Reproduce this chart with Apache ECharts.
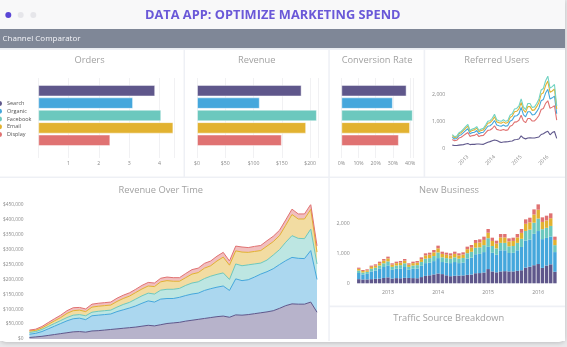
<!DOCTYPE html>
<html><head><meta charset="utf-8">
<script src="https://cdn.jsdelivr.net/npm/echarts@6/dist/echarts.min.js"></script>
<style>html,body{margin:0;padding:0;background:#e8e8ea}#c{width:567px;height:347px}</style>
</head><body><div id="c"></div><script>
// ---------- data ----------
const channels = ['Search', 'Organic', 'Facebook', 'Email', 'Display'];
const orders = [3.86, 3.13, 4.06, 4.46, 2.38];
const revenue = [185, 111, 212, 193, 150];
const conversion = [38, 30, 41.6, 40, 33.5];

const months = ['2012-06','2012-07','2012-08','2012-09','2012-10','2012-11','2012-12',
 '2013-01','2013-02','2013-03','2013-04','2013-05','2013-06','2013-07','2013-08','2013-09','2013-10','2013-11','2013-12',
 '2014-01','2014-02','2014-03','2014-04','2014-05','2014-06','2014-07','2014-08','2014-09','2014-10','2014-11','2014-12',
 '2015-01','2015-02','2015-03','2015-04','2015-05','2015-06','2015-07','2015-08','2015-09','2015-10','2015-11','2015-12',
 '2016-01','2016-02','2016-03','2016-04','2016-05'];

// New Business / Referred Users (users per month)
const nbSearch   = [140,130,130,140,150,160,180,200,160,175,170,185,180,175,170,210,250,270,300,330,310,270,240,255,260,265,285,295,340,345,365,480,400,370,400,410,400,400,420,440,530,560,610,650,520,600,640,390];
const nbOrganic  = [208,169,187,261,280,330,370,404,294,315,328,365,274,315,328,381,431,424,449,520,407,424,441,462,421,435,546,572,641,648,688,751,629,593,713,703,622,629,693,786,912,918,1059,1113,970,931,940,663];
const nbFacebook = [80,65,70,90,95,110,125,135,100,110,115,125,100,110,115,130,150,155,170,190,160,155,150,160,150,155,185,195,220,220,235,290,230,215,250,250,225,230,250,275,325,335,375,420,335,340,355,235];
const nbEmail    = [60,50,50,65,70,80,90,100,75,80,85,90,75,80,85,95,110,115,125,140,115,115,110,115,110,115,135,140,160,165,175,185,170,160,185,185,165,170,185,200,240,245,275,300,245,250,260,175];
const nbDisplay  = [40,35,35,40,45,50,55,60,45,50,55,55,45,50,55,60,70,70,80,90,75,70,70,75,70,75,85,90,100,105,110,125,110,100,115,115,105,110,115,130,150,155,175,180,155,160,165,110];

// Revenue over time (thousands of $)
const rotSearch   = [5,7,9,12,15,18,21,24,25,23,27,28,30,32,34,36,38,40,43,46,44,48,52,54,56,60,63,66,69,72,75,77,73,81,80,82,85,88,91,95,103,112,118,117,117,124,90];
const rotOrganic  = [11,12,16,22,28,34,40,44,45,42,51,52,52,52,58,62,66,71,77,82,80,86,84,82,84,86,88,88,94,97,99,101,90,121,116,117,123,130,135,141,147,151,156,154,153,173,110];
const rotFacebook = [6,6,7,8,9,10,11,12,12,13,12,13,13,13,15,18,19,23,25,26,27,30,31,31,30,34,37,38,40,42,43,44,37,50,50,50,44,37,39,46,50,62,73,67,67,72,52];
const rotEmail    = [5,4,5,7,9,10,14,15,15,14,17,17,17,17,19,20,21,22,23,24,25,28,29,27,24,26,30,31,35,35,45,53,48,44,46,42,42,42,47,45,47,57,71,65,66,66,40];
const rotDisplay  = [3,4,5,6,7,8,9,10,9,9,10,10,10,10,11,11,11,11,12,12,12,12,12,12,12,14,15,15,16,16,16,16,14,16,17,16,17,17,18,18,18,18,18,17,17,17,21];
const rotPeriods = months.slice(0, 47);

// ---------- styles ----------
const COLORS = ['#5f578b', '#45a7dc', '#6cc8be', '#e2b230', '#e07272'];
const REF_COLORS = ['#5f578b', '#e07272', '#45a7dc', '#e2b230', '#72d3c3'];
const FONT = '"Open Sans", "Noto Sans", sans-serif';
const lbl = {fontSize: 5.2, color: '#8a8a8a', fontFamily: FONT};

const chart = echarts.init(document.getElementById('c'), null, {renderer: 'canvas'});

function bgGrid(left, width) { return {left: left, width: width, top: 78, height: 80}; }
function barGrid(left, width) { return {left: left, width: width, top: 84.5, height: 62}; }

const grids = [
  bgGrid(38.2, 136.4), barGrid(38.2, 136.4),       // 0,1 orders
  bgGrid(197, 121.6), barGrid(197, 121.6),         // 2,3 revenue
  bgGrid(341.3, 72.2), barGrid(341.3, 72.2),       // 4,5 conversion
  {left: 452.3, width: 104.4, top: 72.4, height: 76.6},  // 6 referred
  {left: 28, width: 289, top: 205, height: 134},         // 7 revenue over time
  {left: 356.7, width: 200.3, top: 200.3, height: 83}    // 8 new business
];

function bgX(gi, max, fmt, showMin) {
  return {type: 'value', gridIndex: gi, min: 0, max: max, interval: max > 100 ? 50 : (max > 10 ? 10 : 1),
    axisLine: {show: false}, axisTick: {show: false},
    splitLine: {show: true, lineStyle: {color: '#f1f1f3', width: 1}},
    axisLabel: Object.assign({margin: 3, formatter: fmt, showMaxLabel: false, showMinLabel: showMin}, lbl)};
}
function hidX(gi, max) { return {type: 'value', gridIndex: gi, min: 0, max: max, show: false}; }
function hidY(gi) { return {type: 'value', gridIndex: gi, show: false}; }
function catY(gi) { return {type: 'category', gridIndex: gi, data: channels, inverse: true, show: false}; }

const xAxes = [
  bgX(0, 4.5, v => String(v), false), hidX(1, 4.5),
  bgX(2, 215, v => '$' + v, true), hidX(3, 215),
  bgX(4, 42, v => v + '%', true), hidX(5, 42),
  {type: 'category', gridIndex: 6, data: months, boundaryGap: false,
   axisLine: {show: false}, axisTick: {show: false}, splitLine: {show: false},
   axisLabel: Object.assign({rotate: 45, margin: 7, interval: (i, v) => v.endsWith('-01'), formatter: v => v.slice(0, 4)}, lbl)},
  {type: 'category', gridIndex: 7, data: rotPeriods, boundaryGap: false, show: false},
  {type: 'category', gridIndex: 8, data: months,
   axisLine: {show: false}, axisTick: {show: false}, splitLine: {show: false},
   axisLabel: Object.assign({margin: 7, interval: (i, v) => v.endsWith('-01'), formatter: v => v.slice(0, 4)}, lbl)}
];
const thousands = v => (v % 1000 === 0 ? v.toLocaleString('en-US') : '');
const yAxes = [
  hidY(0), catY(1), hidY(2), catY(3), hidY(4), catY(5),
  {type: 'value', gridIndex: 6, min: 0, max: 2800, interval: 1000, axisLine: {show: false}, axisTick: {show: false},
   splitLine: {show: false}, axisLabel: Object.assign({margin: 7, formatter: thousands, showMaxLabel: false}, lbl)},
  {type: 'value', gridIndex: 7, min: 0, max: 450, interval: 50, axisLine: {show: false}, axisTick: {show: false},
   splitLine: {show: false}, axisLabel: Object.assign({margin: 6, formatter: v => '$' + (v * 1000).toLocaleString('en-US')}, lbl, {fontSize: 4.8})},
  {type: 'value', gridIndex: 8, min: 0, max: 2800, interval: 1000, axisLine: {show: false}, axisTick: {show: false},
   splitLine: {show: false}, axisLabel: Object.assign({margin: 7, formatter: thousands, showMaxLabel: false}, lbl)}
];

function hbar(name, gi, vals) {
  return {name: name, type: 'bar', xAxisIndex: gi, yAxisIndex: gi, barCategoryGap: '7%',
    data: vals.map((v, i) => ({value: v, itemStyle: {color: COLORS[i]}})),
    itemStyle: {borderColor: 'rgba(255,255,255,0.45)', borderWidth: 1}};
}

const rotData = [rotSearch, rotOrganic, rotFacebook, rotEmail, rotDisplay];
const nbData = [nbSearch, nbOrganic, nbFacebook, nbEmail, nbDisplay];
const series = [];
channels.forEach((c, i) => series.push({
  name: c, type: 'line', stack: 'rot', xAxisIndex: 7, yAxisIndex: 7, data: rotData[i],
  symbol: 'none', color: COLORS[i], lineStyle: {width: 1, color: COLORS[i]},
  areaStyle: {color: COLORS[i], opacity: 0.45}}));
channels.forEach((c, i) => series.push({
  name: c, type: 'bar', stack: 'nb', xAxisIndex: 8, yAxisIndex: 8, data: nbData[i],
  barCategoryGap: '18%', itemStyle: {color: COLORS[i]}}));
channels.forEach((c, i) => series.push({
  name: c, type: 'line', stack: 'ru', xAxisIndex: 6, yAxisIndex: 6, data: nbData[i],
  symbol: 'none', color: REF_COLORS[i], lineStyle: {width: 1.1, color: REF_COLORS[i]}}));
series.push(hbar('Orders', 1, orders));
series.push(hbar('Revenue', 3, revenue));
series.push(hbar('Conversion Rate', 5, conversion));

function panel(x, y, w, h) { return {type: 'rect', z: -5, shape: {x: x, y: y, width: w, height: h}, style: {fill: '#ffffff'}}; }
function ptitle(t, x, y) {
  return {type: 'text', z: 10, x: x, y: y, style: {text: t, fill: '#a2a2a2', fontSize: 9.3, fontFamily: FONT,
    align: 'center', verticalAlign: 'middle', textAlign: 'center', textVerticalAlign: 'middle'}};
}

const graphics = [
  {type: 'rect', z: -20, shape: {x: 0, y: 0, width: 565, height: 342, r: [0, 0, 6, 6]},
   style: {fill: '#ffffff', shadowBlur: 4, shadowColor: 'rgba(0,0,0,0.18)', shadowOffsetY: 1}},
  {type: 'rect', z: -19, shape: {x: 0, y: 0, width: 565, height: 29}, style: {fill: '#f8f8f9'}},
  {type: 'circle', z: -18, shape: {cx: 8.3, cy: 15, r: 3}, style: {fill: '#5a46d6'}},
  {type: 'circle', z: -18, shape: {cx: 20.7, cy: 15, r: 3}, style: {fill: '#e6e6ea'}},
  {type: 'circle', z: -18, shape: {cx: 33.3, cy: 15, r: 3}, style: {fill: '#e6e6ea'}},
  {type: 'text', z: 10, x: 272.8, y: 15.5, style: {text: 'DATA APP: OPTIMIZE MARKETING SPEND', fill: '#6a58d8',
    fontSize: 12.8, fontWeight: 'bold', fontFamily: FONT, align: 'center', verticalAlign: 'middle',
    textAlign: 'center', textVerticalAlign: 'middle'}},
  {type: 'rect', z: -19, shape: {x: 0, y: 29, width: 565, height: 19.3}, style: {fill: '#7f8797'}},
  {type: 'text', z: 10, x: 2.5, y: 38.8, style: {text: 'Channel Comparator', fill: '#f3f4f8', fontSize: 8,
    fontFamily: FONT, align: 'left', verticalAlign: 'middle', textAlign: 'left', textVerticalAlign: 'middle'}},
  {type: 'rect', z: -19, shape: {x: 0, y: 48.3, width: 565, height: 292.7}, style: {fill: '#eef0f5'}},
  panel(0, 50, 183.5, 126.5), panel(185, 50, 143.3, 126.5), panel(329.8, 50, 93.8, 126.5), panel(425.2, 50, 139.8, 126.5),
  panel(0, 178, 328.3, 163), panel(329.8, 178, 235.2, 127.5), panel(329.8, 307.2, 235.2, 33.8),
  ptitle('Orders', 89.5, 60.7), ptitle('Revenue', 256.7, 60.7), ptitle('Conversion Rate', 377, 60.7),
  ptitle('Referred Users', 496.7, 60.7), ptitle('Revenue Over Time', 160.8, 190), ptitle('New Business', 449, 190),
  ptitle('Traffic Source Breakdown', 448.7, 318.3)
];

chart.setOption({
  animation: false,
  backgroundColor: '#e8e8ea',
  grid: grids,
  xAxis: xAxes,
  yAxis: yAxes,
  legend: {data: channels, orient: 'vertical', left: -3, top: 100.5, padding: 0, icon: 'circle', itemWidth: 5, itemHeight: 5,
    itemGap: 1.75, selectedMode: false, textStyle: {fontSize: 5.5, lineHeight: 5, color: '#555', fontFamily: FONT}},
  graphic: {elements: graphics},
  series: series
});
</script></body></html>
